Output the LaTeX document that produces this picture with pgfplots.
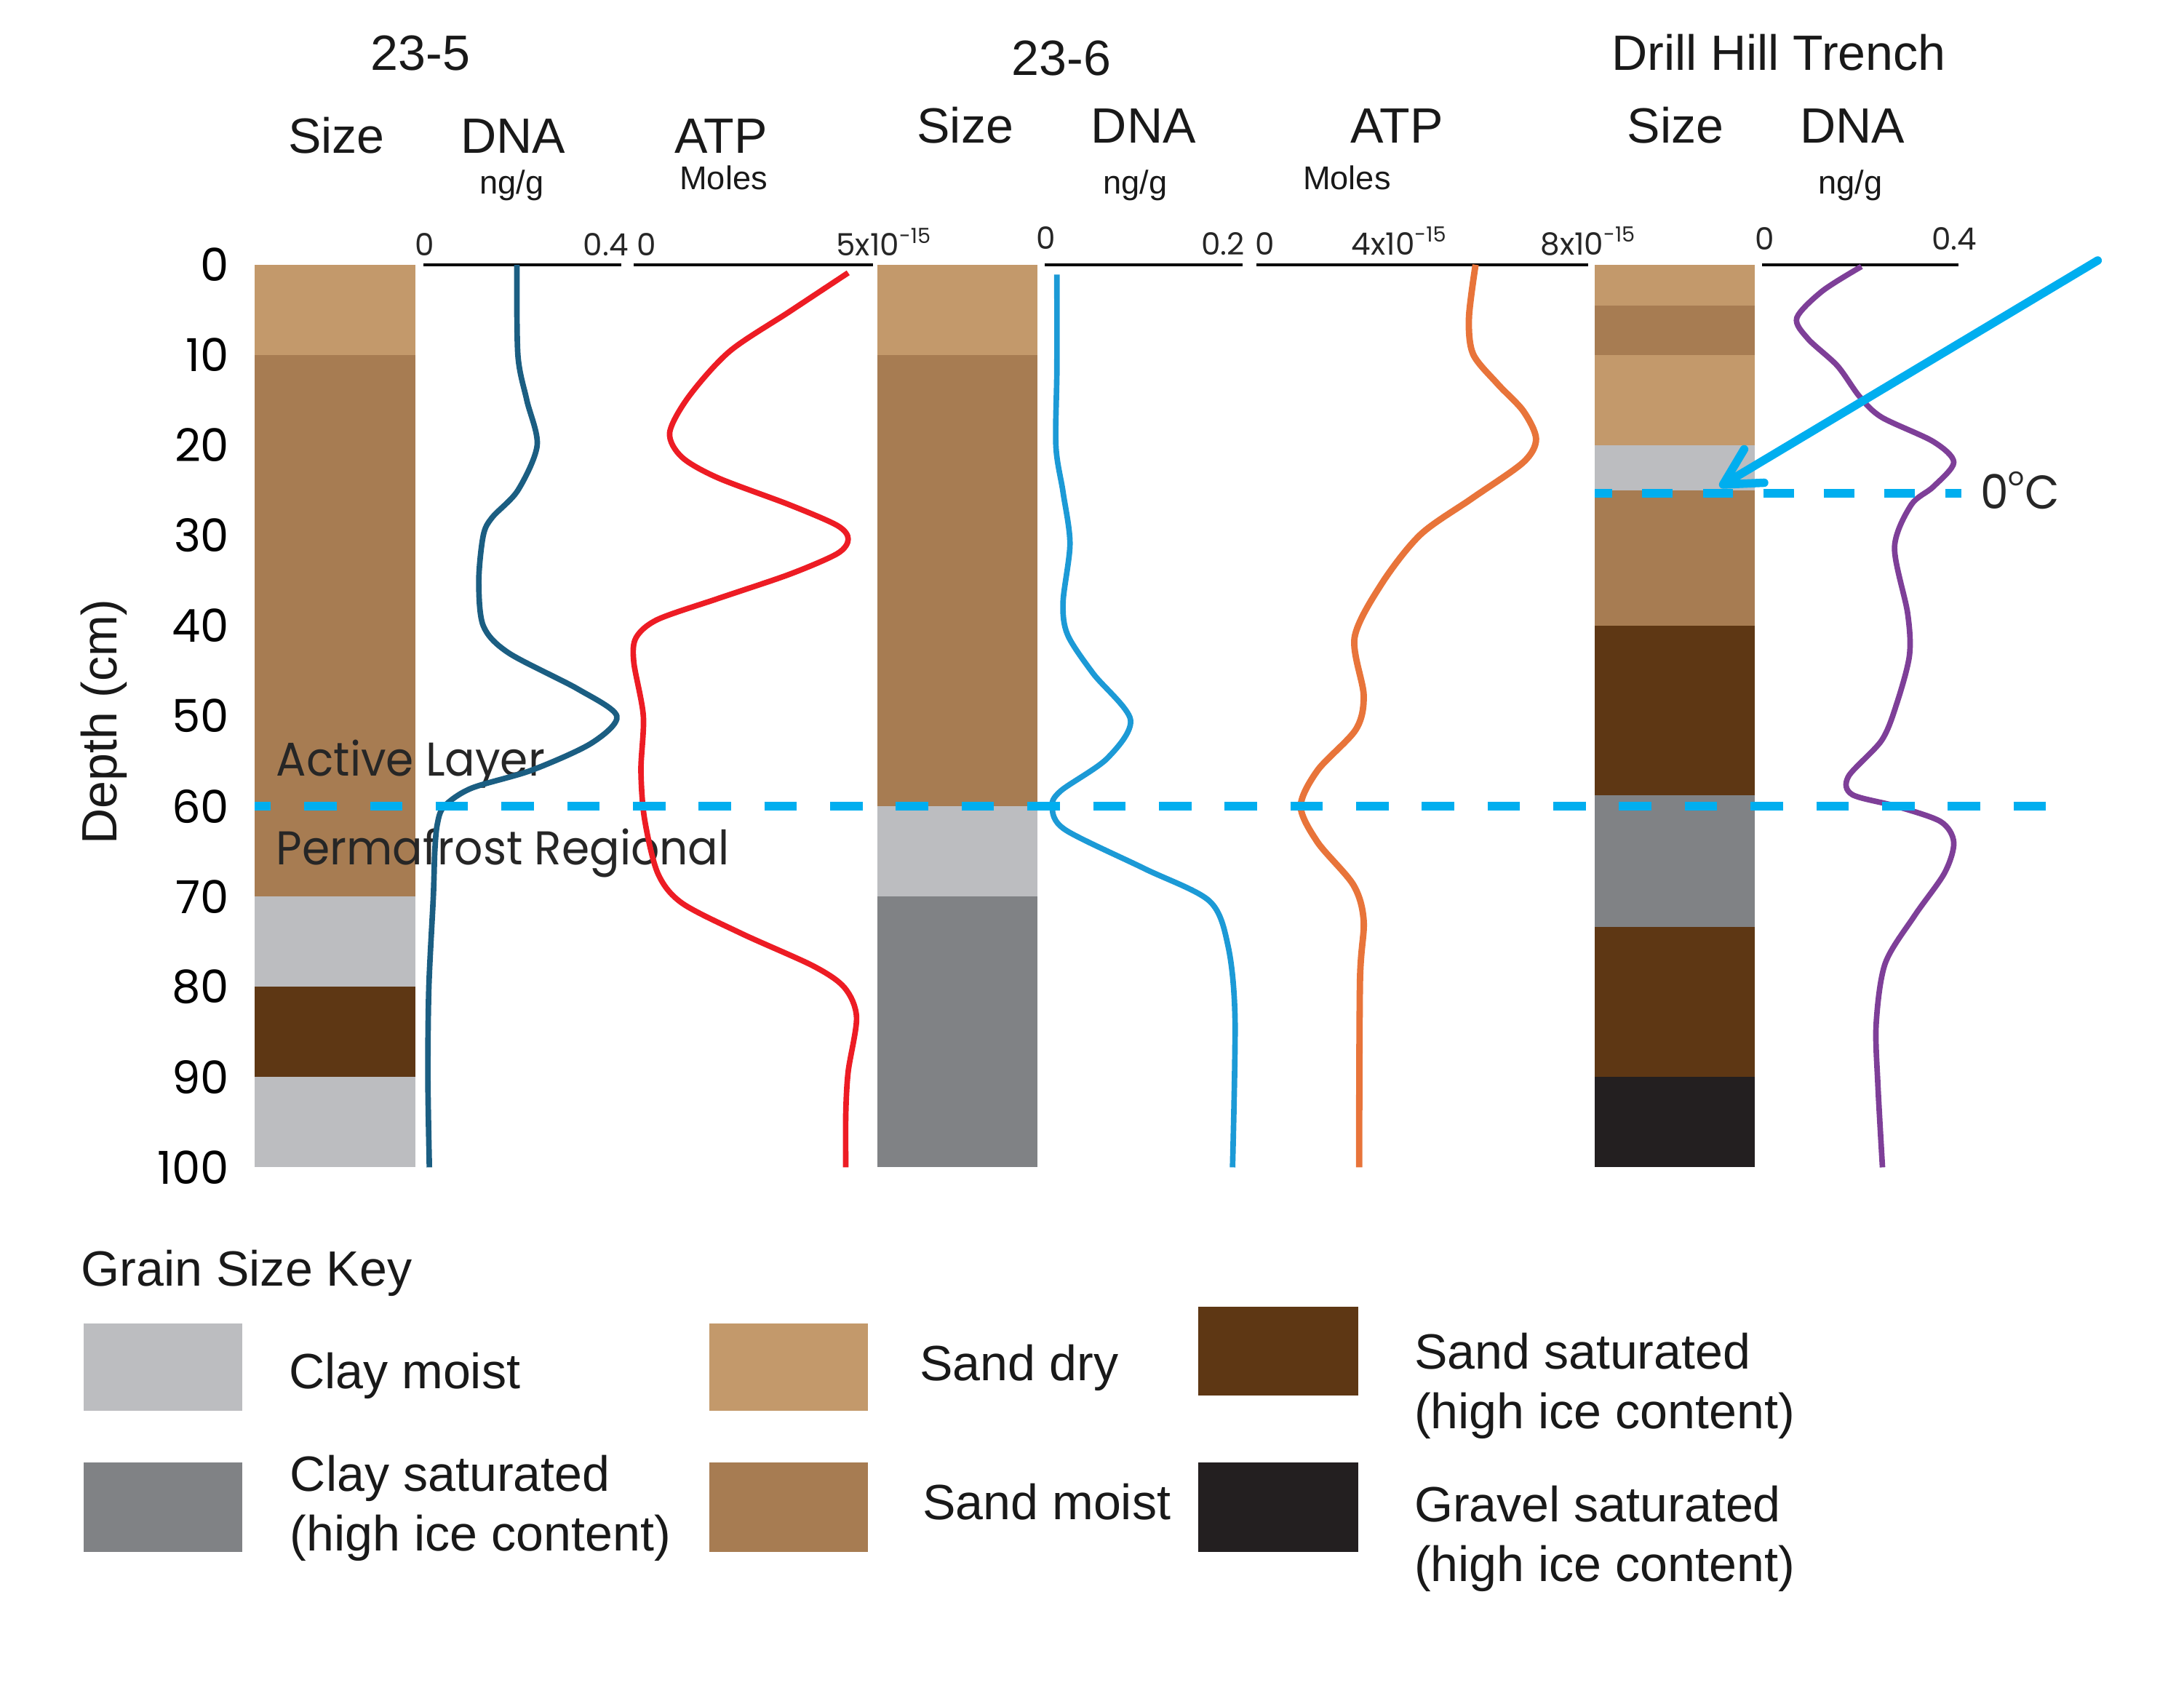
\documentclass[border=0pt]{standalone}
\usepackage{fontspec}
\setmainfont{Liberation Sans}
\newfontfamily\geo{Poppins}
\newfontfamily\geon[FakeStretch=0.945]{Poppins}
\usepackage{pgfplots}
\pgfplotsset{compat=1.18}
\usetikzlibrary{arrows.meta}

\definecolor{sanddry}{HTML}{C3996B}
\definecolor{sandmoist}{HTML}{A77C52}
\definecolor{claymoist}{HTML}{BCBDC0}
\definecolor{claysat}{HTML}{808285}
\definecolor{sandsat}{HTML}{5E3714}
\definecolor{gravel}{HTML}{231F20}
\definecolor{dnaA}{HTML}{1B5E82}
\definecolor{atpA}{HTML}{ED1C24}
\definecolor{dnaB}{HTML}{1C9AD6}
\definecolor{atpB}{HTML}{E8743A}
\definecolor{dnaC}{HTML}{7E3F98}
\definecolor{zeroline}{HTML}{00AEEF}

\newcommand\hf{\fontsize{17.8}{21}\selectfont}
\newcommand\smallf{\fontsize{11.8}{14}\selectfont}
\newcommand\numf{\geo\fontsize{11}{13}\selectfont}
\newcommand\tickf{\geo\fontsize{16.3}{19}\selectfont}
\newcommand\bigf{\geon\fontsize{17}{20}\selectfont}
\newcommand\expo[1]{\raisebox{0.42em}{\geo\fontsize{7.5}{8}\selectfont #1}}

\pgfplotsset{
  prof/.style={scale only axis, height=324pt, ymin=0, ymax=100, y dir=reverse,
    enlargelimits=false, axis line style={draw=none}, xtick=\empty, ytick=\empty,
    clip=false, anchor=north west},
  col/.style={prof, width=57.5pt, xmin=0, xmax=1, ybar stacked, bar width=57.5pt,
    bar shift=0pt},
  curve/.style={smooth, line width=2pt},
}

\begin{document}
\begin{tikzpicture}[x=0.5pt, y=-0.5pt]
\path (0,0) rectangle (1568,1211.3);

% grain size columns (layer thickness, cm)
\begin{axis}[col, at={(91.5pt,-95pt)},
    ytick={0,10,...,100}, major tick length=0pt,
    /pgf/number format/assume math mode=true,
    yticklabel style={font=\tickf, inner sep=0pt, xshift=-9pt}]
\addplot[fill=sanddry, draw=none] coordinates {(0.5,10)};
\addplot[fill=sandmoist, draw=none] coordinates {(0.5,60)};
\addplot[fill=claymoist, draw=none] coordinates {(0.5,10)};
\addplot[fill=sandsat, draw=none] coordinates {(0.5,10)};
\addplot[fill=claymoist, draw=none] coordinates {(0.5,10)};
\end{axis}

\begin{axis}[col, at={(315pt,-95pt)}]
\addplot[fill=sanddry, draw=none] coordinates {(0.5,10)};
\addplot[fill=sandmoist, draw=none] coordinates {(0.5,50)};
\addplot[fill=claymoist, draw=none] coordinates {(0.5,10)};
\addplot[fill=claysat, draw=none] coordinates {(0.5,30)};
\end{axis}

\begin{axis}[col, at={(572.5pt,-95pt)}]
\addplot[fill=sanddry, draw=none] coordinates {(0.5,4.5)};
\addplot[fill=sandmoist, draw=none] coordinates {(0.5,5.5)};
\addplot[fill=sanddry, draw=none] coordinates {(0.5,10)};
\addplot[fill=claymoist, draw=none] coordinates {(0.5,5)};
\addplot[fill=sandmoist, draw=none] coordinates {(0.5,15)};
\addplot[fill=sandsat, draw=none] coordinates {(0.5,18.8)};
\addplot[fill=claysat, draw=none] coordinates {(0.5,14.6)};
\addplot[fill=sandsat, draw=none] coordinates {(0.5,16.6)};
\addplot[fill=gravel, draw=none] coordinates {(0.5,10)};
\end{axis}

\node[font=\bigf, anchor=base west, inner sep=0pt, text=black!85] at (198,557) {Active Layer};
\node[font=\bigf, anchor=base west, inner sep=0pt, text=black!85] at (198,621) {Permafrost Regional};

% 23-5 DNA
\begin{axis}[prof, at={(152pt,-95pt)}, width=71pt, xmin=0, xmax=0.4]
\draw[line width=0.9pt] (axis cs:0,0) -- (axis cs:0.4,0);
\addplot[curve, dnaA] coordinates {
 (0.189,0)(0.191,10)(0.209,15)(0.230,20)(0.191,25)(0.139,28)(0.121,30)(0.112,35)
 (0.121,40)(0.172,43)(0.312,47)(0.391,50)(0.340,53)(0.219,56)(0.097,58)(0.042,60)
 (0.028,62)(0.023,65)(0.020,70)(0.011,80)(0.009,90)(0.012,100)};
\end{axis}

% 23-5 ATP (10^-15 moles)
\begin{axis}[prof, at={(227.5pt,-95pt)}, width=86pt, xmin=0, xmax=5]
\draw[line width=0.9pt] (axis cs:0,0) -- (axis cs:5,0);
\addplot[curve, atpA] coordinates {
 (4.475,0.9)(3.25,5.2)(2.0,9.6)(1.15,14.6)(0.75,18.6)(1.0,21.3)(1.75,23.6)(3.25,26.6)
 (4.25,28.9)(4.475,30.4)(4.25,32.0)(3.25,34.3)(1.75,37.0)(0.5,39.3)(0.05,41.3)(0.0,44.0)
 (0.2,50.0)(0.15,56.0)(0.225,61.4)(0.5,67.4)(1.0,70.7)(2.25,74.1)(3.75,77.7)(4.4,80.1)
 (4.65,83.4)(4.475,89.4)(4.425,94.1)(4.425,100)};
\end{axis}

% 23-6 DNA
\begin{axis}[prof, at={(375pt,-95pt)}, width=71pt, xmin=0, xmax=0.2]
\draw[line width=0.9pt] (axis cs:0,0) -- (axis cs:0.2,0);
\addplot[curve, dnaB] coordinates {
 (0.0124,1.1)(0.0124,11.5)(0.0114,20.1)(0.0186,25.2)(0.0256,30.9)(0.0186,37.4)
 (0.0232,41)(0.0491,45.3)(0.0868,50.4)(0.0632,54.7)(0.0162,58.3)(0.0075,60.1)
 (0.0208,62.6)(0.1008,66.9)(0.1667,70.5)(0.1855,75.5)(0.1925,83.5)(0.190,100)};
\end{axis}

% 23-6 ATP (10^-15 moles)
\begin{axis}[prof, at={(451pt,-95pt)}, width=119pt, xmin=0, xmax=8]
\draw[line width=0.9pt] (axis cs:0,0) -- (axis cs:8,0);
\addplot[curve, atpB, line width=2.3pt] coordinates {
 (5.29,0)(5.13,5.9)(5.23,9.9)(5.82,13.2)(6.44,16.2)(6.75,19.3)(6.44,21.9)(5.20,25.9)
 (3.96,29.9)(3.03,35.3)(2.37,41.3)(2.59,47.7)(2.40,51.5)(1.48,56.0)(1.07,60.0)
 (1.48,64.0)(2.34,68.7)(2.59,72.7)(2.50,79.4)(2.48,100)};
\end{axis}

% Drill Hill Trench DNA
\begin{axis}[prof, at={(632.5pt,-95pt)}, width=70.5pt, xmin=0, xmax=0.4]
\draw[line width=0.9pt] (axis cs:0,0) -- (axis cs:0.4,0);
\addplot[curve, dnaC] coordinates {
 (0.2026,0.2)(0.1234,2.9)(0.0709,5.9)(0.0935,8.2)(0.1535,11.2)(0.1986,14.6)
 (0.2437,16.9)(0.349,19.6)(0.3906,21.9)(0.349,24.6)(0.304,26.6)(0.270,31.3)
 (0.2966,38.6)(0.3003,43.3)(0.274,48.7)(0.2437,52.7)(0.176,56.7)(0.1837,58.7)
 (0.274,60.0)(0.364,61.7)(0.3906,64.0)(0.3717,67.4)(0.311,72.1)(0.251,77.4)
 (0.2326,84.1)(0.236,90.8)(0.2454,100)};
\end{axis}

% boundaries
\draw[zeroline, line width=3pt, dash pattern=on 11.65pt off 11.95pt, dash phase=5.9pt]
  (183,578.8) -- (1469,578.8);
\draw[zeroline, line width=3pt, dash pattern=on 10.95pt off 10.8pt, dash phase=4.75pt]
  (1145,354) -- (1408,354);
\draw[zeroline, line width=3pt, line cap=round,
  -{Straight Barb[length=13pt, width=14pt, round]}] (1506,187) -- (1234.5,349.4);
\node[font=\bigf, anchor=base west, inner sep=0pt, text=black!85] at (1421.5,365.4)
  {0\raisebox{0.5em}{\geo\fontsize{9}{9}\selectfont o}C};

% axis range labels
\begin{scope}[every node/.style={font=\numf, inner sep=0pt, anchor=base, text=black!85}]
\node at (305,183.8) {0};
\node at (435,183.8) {0.4};
\node at (464,183.8) {0};
\node[anchor=base west] at (600,183.8) {5x10\expo{-15}};
\node at (751,179.1) {0};
\node at (878,182.9) {0.2};
\node at (908,182.9) {0};
\node[anchor=base west] at (970,182.9) {4x10\expo{-15}};
\node[anchor=base west] at (1105.6,182.9) {8x10\expo{-15}};
\node at (1267,179.4) {0};
\node at (1403,179.4) {0.4};
\end{scope}

% headings
\begin{scope}[every node/.style={font=\hf, inner sep=0pt, anchor=base, text=black!90}]
\node at (302,50.6) {23-5};
\node at (241.5,110.1) {Size};
\node at (368.5,110.1) {DNA};
\node at (517.5,110.1) {ATP};
\node[font=\smallf] at (367.5,139.4) {ng/g};
\node[font=\smallf] at (519.5,136.2) {Moles};
\node at (762,54) {23-6};
\node at (693,102.4) {Size};
\node at (821,102.7) {DNA};
\node at (1003,102.7) {ATP};
\node[font=\smallf] at (815,139.4) {ng/g};
\node[font=\smallf] at (967,135.8) {Moles};
\node at (1277,50.6) {Drill Hill Trench};
\node at (1203,102.7) {Size};
\node at (1330,102.7) {DNA};
\node[font=\smallf] at (1328.5,139.4) {ng/g};
\node[rotate=90] at (83.8,518) {Depth (cm)};
\end{scope}

% grain size key
\fill[claymoist] (60,950) rectangle (174,1013);
\fill[claysat] (60,1050) rectangle (174,1114);
\fill[sanddry] (509,950) rectangle (623,1013);
\fill[sandmoist] (509,1050) rectangle (623,1114);
\fill[sandsat] (860,938) rectangle (975,1002);
\fill[gravel] (860,1050) rectangle (975,1114);
\begin{scope}[every node/.style={font=\hf, inner sep=0pt, anchor=base west, text=black!90}]
\node at (58,923) {Grain Size Key};
\node at (207,996.8) {Clay moist};
\node at (208,1070.4) {Clay saturated};
\node at (208,1113.3) {(high ice content)};
\node at (660,991.3) {Sand dry};
\node at (662,1091) {Sand moist};
\node at (1015,982.5) {Sand saturated};
\node at (1015,1025.4) {(high ice content)};
\node at (1015,1092.4) {Gravel saturated};
\node at (1015,1135) {(high ice content)};
\end{scope}
\end{tikzpicture}
\end{document}
